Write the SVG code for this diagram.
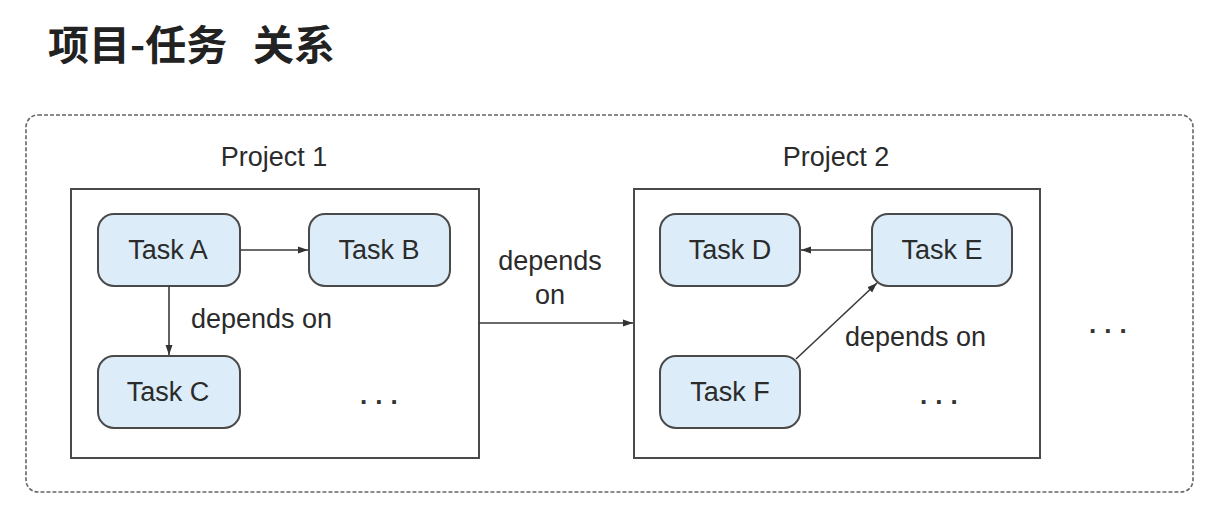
<svg xmlns="http://www.w3.org/2000/svg" width="1218" height="518" viewBox="0 0 1218 518">
<style>
.t{font-family:"Liberation Sans",Arial,sans-serif;font-size:27px;fill:#2b2b2b}
.task rect{fill:#dcedf9;stroke:#4a4a4a;stroke-width:2}
.proj{fill:#fff;stroke:#4a4a4a;stroke-width:2}
.c{stroke:#3a3a3a;stroke-width:1.6;fill:none;marker-end:url(#ah)}
.dots{font-family:"Liberation Sans",Arial,sans-serif;font-size:26px;font-weight:bold;fill:#333;letter-spacing:8px}
.title{font-family:"Noto Sans CJK SC",sans-serif;font-weight:bold;font-size:41px;fill:#222}
</style>
<defs>
<marker id="ah" viewBox="0 0 10 10" refX="10" refY="5" markerWidth="10" markerHeight="10" markerUnits="userSpaceOnUse" orient="auto">
<path d="M0,1.5 L10,5 L0,8.5 z" fill="#333"/>
</marker>
</defs>
<rect width="1218" height="518" fill="#fff"/>
<text class="title" x="48" y="60">项目-任务<tspan x="253">关系</tspan></text>
<rect id="outer" x="26" y="115" width="1167" height="377" rx="12" fill="none" stroke="#666" stroke-width="1.6" stroke-dasharray="4,2"/>
<g id="project1">
<text class="t" x="274" y="166" text-anchor="middle">Project 1</text>
<rect class="proj" x="71" y="189" width="408" height="269"/>
<text class="dots" x="360" y="404">...</text>
</g>
<g id="project2">
<text class="t" x="836" y="166" text-anchor="middle">Project 2</text>
<rect class="proj" x="634" y="189" width="406" height="269"/>
<text class="dots" x="920" y="404">...</text>
</g>
<text id="more" class="dots" x="1089" y="333">...</text>
<g id="taskA" class="task"><rect x="98" y="214" width="142" height="72" rx="16"/><text class="t" x="168" y="259" text-anchor="middle">Task A</text></g>
<g id="taskB" class="task"><rect x="309" y="214" width="141" height="72" rx="16"/><text class="t" x="379" y="259" text-anchor="middle">Task B</text></g>
<g id="taskC" class="task"><rect x="98" y="356" width="142" height="72" rx="16"/><text class="t" x="168" y="401" text-anchor="middle">Task C</text></g>
<g id="taskD" class="task"><rect x="660" y="214" width="140" height="72" rx="16"/><text class="t" x="730" y="259" text-anchor="middle">Task D</text></g>
<g id="taskE" class="task"><rect x="872" y="214" width="140" height="72" rx="16"/><text class="t" x="942" y="259" text-anchor="middle">Task E</text></g>
<g id="taskF" class="task"><rect x="660" y="356" width="140" height="72" rx="16"/><text class="t" x="730" y="401" text-anchor="middle">Task F</text></g>
<g id="connectors">
<line class="c" x1="240" y1="250" x2="308" y2="250"/>
<line class="c" x1="169" y1="286" x2="169" y2="355"/>
<line class="c" x1="479" y1="323" x2="633" y2="323"/>
<line class="c" x1="872" y1="250" x2="801" y2="250"/>
<line class="c" x1="796" y1="359" x2="877" y2="283"/>
<text class="t" x="191" y="328">depends on</text>
<text class="t" x="550" y="270" text-anchor="middle">depends</text>
<text class="t" x="550" y="304" text-anchor="middle">on</text>
<text class="t" x="845" y="346">depends on</text>
</g>
</svg>
